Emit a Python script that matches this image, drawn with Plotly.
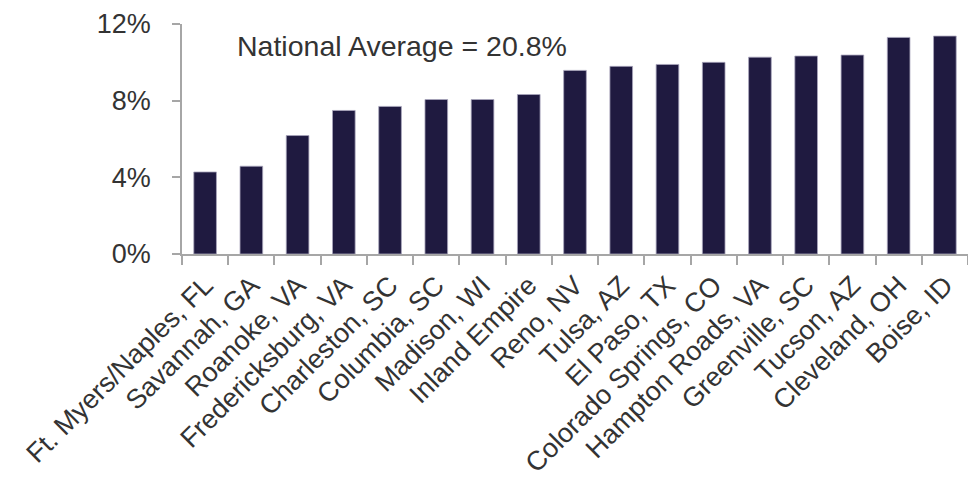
import plotly.graph_objects as go

# Metro areas and their share (fraction) shown as bars
metros = [
    "Ft. Myers/Naples, FL", "Savannah, GA", "Roanoke, VA", "Fredericksburg, VA",
    "Charleston, SC", "Columbia, SC", "Madison, WI", "Inland Empire",
    "Reno, NV", "Tulsa, AZ", "El Paso, TX", "Colorado Springs, CO",
    "Hampton Roads, VA", "Greenville, SC", "Tucson, AZ", "Cleveland, OH", "Boise, ID",
]
shares = [
    0.0428, 0.0458, 0.0618, 0.0749,
    0.0770, 0.0806, 0.0806, 0.0832,
    0.0958, 0.0979, 0.0989, 0.1000,
    0.1027, 0.1033, 0.1038, 0.1130, 0.1137,
]
y_ticks = [0, 0.04, 0.08, 0.12]
note_text = "National Average = 20.8%"

FONT = "Liberation Sans, Arial, sans-serif"
TEXT = "#333333"
AXIS = "#A6A6A6"
BAR = "#1F1A40"

fig = go.Figure(
    go.Bar(
        x=metros,
        y=shares,
        width=0.49,
        marker=dict(color=BAR, line=dict(color="#A9A6BC", width=0.8)),
    )
)

fig.add_annotation(
    text=note_text,
    xref="paper", yref="paper",
    x=0.068, y=0.905,
    xanchor="left", yanchor="middle",
    showarrow=False,
    font=dict(family=FONT, size=28.5, color=TEXT),
)

fig.update_layout(
    width=968, height=482,
    margin=dict(l=182, r=0, t=24, b=228, autoexpand=False),
    paper_bgcolor="white",
    plot_bgcolor="white",
    showlegend=False,
    font=dict(family=FONT, size=27, color=TEXT),
)

fig.update_xaxes(
    type="category",
    automargin=False,
    tickangle=-45,
    tickson="boundaries",
    ticks="outside",
    ticklen=9,
    tickwidth=1.5,
    tickcolor=AXIS,
    showline=True,
    linecolor=AXIS,
    linewidth=1.5,
    showgrid=False,
    ticklabelstandoff=3,
    tickfont=dict(family=FONT, size=27, color=TEXT),
)

fig.update_yaxes(
    automargin=False,
    range=[0, 0.12],
    tickvals=y_ticks,
    tickformat=".0%",
    ticks="outside",
    ticklen=8,
    tickwidth=1.5,
    tickcolor=AXIS,
    showline=True,
    linecolor=AXIS,
    linewidth=1.5,
    showgrid=False,
    zeroline=False,
    ticklabelstandoff=16,
    tickfont=dict(family=FONT, size=27, color=TEXT),
)

fig.write_html("out.html")
